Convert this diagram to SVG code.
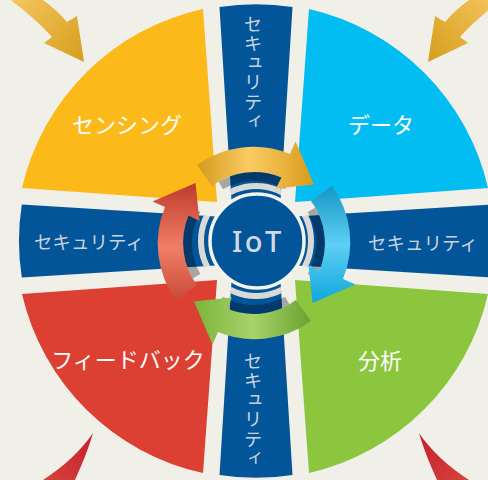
<svg xmlns="http://www.w3.org/2000/svg" xmlns:xlink="http://www.w3.org/1999/xlink" width="488" height="480" viewBox="0 0 488 480">
<style>
.bar{fill:#03559A}
.sec-t{font-family:"Noto Sans CJK JP","Noto Sans",sans-serif;font-size:22px;fill:#FFFFFF;text-anchor:middle}
.bar-t{font-family:"Noto Sans CJK JP","Noto Sans",sans-serif;font-size:18.5px;fill:#C9D3DE;text-anchor:middle}
.vert{writing-mode:vertical-rl;text-orientation:upright;letter-spacing:1px}
.shadow{fill:#000;opacity:0.3}
</style>
<defs>
<linearGradient id="gY" x1="0" y1="0" x2="1" y2="0">
<stop offset="0" stop-color="#D49A1E"/><stop offset="0.45" stop-color="#FBCB63"/><stop offset="1" stop-color="#D89C1B"/>
</linearGradient>
<linearGradient id="gB" x1="0" y1="0" x2="1" y2="0">
<stop offset="0" stop-color="#1896C4"/><stop offset="0.5" stop-color="#5DCFF5"/><stop offset="1" stop-color="#10A6DB"/>
</linearGradient>
<linearGradient id="gG" x1="0" y1="0" x2="1" y2="0">
<stop offset="0" stop-color="#6AA22F"/><stop offset="0.5" stop-color="#A8D26A"/><stop offset="1" stop-color="#7AB43A"/>
</linearGradient>
<linearGradient id="gR" x1="0" y1="0" x2="1" y2="0">
<stop offset="0" stop-color="#C94A3A"/><stop offset="0.45" stop-color="#F07F66"/><stop offset="1" stop-color="#BE3A2C"/>
</linearGradient>
<linearGradient id="gCorner" gradientUnits="userSpaceOnUse" x1="10" y1="0" x2="84" y2="62">
<stop offset="0" stop-color="#F4C65E"/><stop offset="1" stop-color="#D69E1D"/>
</linearGradient>
<linearGradient id="gSwoosh" gradientUnits="userSpaceOnUse" x1="93" y1="433" x2="45" y2="482">
<stop offset="0" stop-color="#C41F2F"/><stop offset="1" stop-color="#D6433A"/>
</linearGradient>
<path id="vbar" d="M219.5,7 A237,237 0 0 1 292.5,7 L278,241 L292.5,475 A237,237 0 0 1 219.5,475 L234,241 Z"/>
<path id="hbar" d="M21.8,204.5 L256,219 L490.2,204.5 A237,237 0 0 1 490.2,277.5 L256,263 L21.8,277.5 A237,237 0 0 1 21.8,204.5 Z"/>
<clipPath id="barClip"><use xlink:href="#vbar"/><use xlink:href="#hbar"/></clipPath>
<path id="cyc" d="M197,165 A96,96 0 0 1 290,154 L295.5,141.5 L314,184.5 L276,188.5 L281.4,177.5 A71,71 0 0 0 212,186 Z"/>
<path id="cycShadow" d="M218.5,181.5 A71,71 0 0 1 289.5,181.5 L285,189.3 A62,62 0 0 0 223,189.3 Z"/>
<path id="cornerArrow" d="M52,37 L44,43 L84,62 L77,16 L67,22 Q55,8 40,-2 L8,-2 Q35,18 52,37 Z"/>
<path id="swoosh" d="M93,433 C80,452 62,468 40,482 L74,482 C82,465 88,450 93,433 Z"/>
</defs>

<rect x="0" y="0" width="488" height="480" fill="#F0EFE8"/>

<g id="security-bars">
<use xlink:href="#vbar" class="bar"/>
<use xlink:href="#hbar" class="bar"/>
</g>

<g id="security-top">
<text class="bar-t vert" x="253" y="73">セキュリティ</text>
</g>
<g id="security-bottom">
<text class="bar-t vert" x="253" y="410">セキュリティ</text>
</g>
<g id="security-left"><text class="bar-t" x="89" y="249">セキュリティ</text></g>
<g id="security-right"><text class="bar-t" x="423" y="250">セキュリティ</text></g>

<g id="sensing">
<path fill="#FBB91A" d="M217,202 L203,9 A238,238 0 0 0 22,188 Z"/>
<text class="sec-t" x="127" y="133">センシング</text>
</g>
<g id="data">
<path fill="#02BDF1" d="M295,202 L309,9 A238,238 0 0 1 488,188 Z"/>
<text class="sec-t" x="381" y="133">データ</text>
</g>
<g id="feedback">
<path fill="#DC4033" d="M217,280 L22,294 A238,238 0 0 0 203,473 Z"/>
<text class="sec-t" x="128" y="368">フィードバック</text>
</g>
<g id="analysis">
<path fill="#8CC63F" d="M295,280 L488,294 A238,238 0 0 1 309,473 Z"/>
<text class="sec-t" x="380" y="369">分析</text>
</g>

<g id="iot">
<circle cx="256" cy="241" r="55" fill="none" stroke="#D9DAD6" stroke-width="6" clip-path="url(#barClip)"/>
<circle cx="257" cy="241" r="47" fill="#03559A" stroke="#F4F4EF" stroke-width="3.5"/>
<text x="258" y="252" font-family="Noto Sans, sans-serif" font-size="29" font-weight="500" letter-spacing="2.5" fill="#D3D9E0" text-anchor="middle">IoT</text>
</g>

<g id="connectors">
<use xlink:href="#cycShadow" class="shadow"/>
<use xlink:href="#cycShadow" class="shadow" transform="rotate(90 254 243)"/>
<use xlink:href="#cycShadow" class="shadow" transform="rotate(180 254 243)"/>
<use xlink:href="#cycShadow" class="shadow" transform="rotate(270 254 243)"/>
<use xlink:href="#cyc" fill="url(#gY)"/>
<use xlink:href="#cyc" fill="url(#gB)" transform="rotate(90 254 243)"/>
<use xlink:href="#cyc" fill="url(#gG)" transform="rotate(180 254 243)"/>
<use xlink:href="#cyc" fill="url(#gR)" transform="rotate(270 254 243)"/>
<use xlink:href="#cornerArrow" fill="url(#gCorner)"/>
<use xlink:href="#cornerArrow" fill="url(#gCorner)" transform="matrix(-1 0 0 1 512 0)"/>
<use xlink:href="#swoosh" fill="url(#gSwoosh)"/>
<use xlink:href="#swoosh" fill="url(#gSwoosh)" transform="matrix(-1 0 0 1 512 0)"/>
</g>
</svg>
